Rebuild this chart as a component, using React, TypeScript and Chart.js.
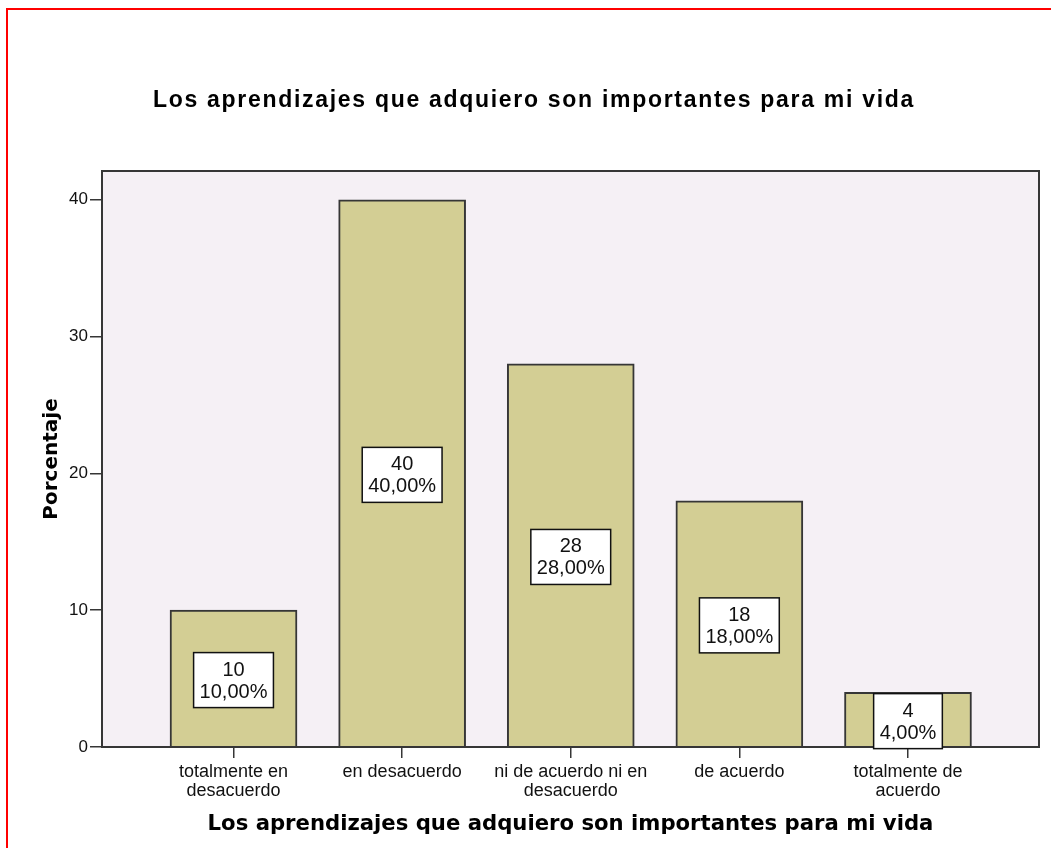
import React, { useEffect, useRef } from "react";
import { Chart, registerables } from "chart.js";

Chart.register(...registerables);

const chartTitle = "Los aprendizajes que adquiero son importantes para mi vida";
const xAxisTitle = "Los aprendizajes que adquiero son importantes para mi vida";
const yAxisTitle = "Porcentaje";
const categories: (string | string[])[] = [
  ["totalmente en", "desacuerdo"],
  "en desacuerdo",
  ["ni de acuerdo ni en", "desacuerdo"],
  "de acuerdo",
  ["totalmente de", "acuerdo"],
];
const counts = [10, 40, 28, 18, 4];
const percentages = [10, 40, 28, 18, 4];
const yTickStep = 10;

const pctText = (v: number) => v.toFixed(2).replace(".", ",") + "%";

const W = 1051;
const H = 848;
const FRAME = "#363636";

const framePlugin = {
  id: "frameAndLabels",
  beforeDraw(chart: any) {
    const { ctx, chartArea: a } = chart;
    ctx.save();
    ctx.fillStyle = "#ffffff";
    ctx.fillRect(0, 0, chart.width, chart.height);
    ctx.fillStyle = "#F5F0F5";
    ctx.fillRect(a.left, a.top, a.right - a.left, a.bottom - a.top);
    ctx.restore();
  },
  afterDatasetsDraw(chart: any) {
    const { ctx, chartArea: a } = chart;
    ctx.save();
    ctx.strokeStyle = FRAME;
    ctx.lineWidth = 2;
    ctx.strokeRect(a.left, a.top, a.right - a.left, a.bottom - a.top);

    const meta = chart.getDatasetMeta(0);
    const ys = chart.scales.y;
    ctx.font = '20px "Liberation Sans", Arial, sans-serif';
    ctx.textAlign = "center";
    ctx.textBaseline = "middle";
    meta.data.forEach((bar: any, i: number) => {
      const cx = bar.x;
      const cy = ys.getPixelForValue(percentages[i] / 2) + 1.5;
      const l1 = String(counts[i]);
      const l2 = pctText(percentages[i]);
      const w = Math.max(ctx.measureText(l1).width, ctx.measureText(l2).width) + 12;
      const h = 55;
      ctx.fillStyle = "#ffffff";
      ctx.fillRect(cx - w / 2, cy - h / 2, w, h);
      ctx.strokeStyle = "#111111";
      ctx.lineWidth = 1.5;
      ctx.strokeRect(cx - w / 2, cy - h / 2, w, h);
      ctx.fillStyle = "#111111";
      ctx.fillText(l1, cx, cy - 10);
      ctx.fillText(l2, cx, cy + 12);
    });
    ctx.restore();
  },
  afterDraw(chart: any) {
    const { ctx } = chart;
    ctx.save();
    // chart title
    ctx.fillStyle = "#000000";
    ctx.font = 'bold 23px "Liberation Sans", Arial, sans-serif';
    (ctx as any).letterSpacing = "1.7px";
    ctx.textAlign = "center";
    ctx.textBaseline = "middle";
    ctx.fillText(chartTitle, 534, 101);
    (ctx as any).letterSpacing = "0px";
    // red frame
    ctx.fillStyle = "#ff0000";
    ctx.fillRect(6, 8, chart.width - 6, 2);
    ctx.fillRect(6, 8, 2, chart.height - 8);
    ctx.restore();
  },
};

export default function App() {
  const ref = useRef<HTMLCanvasElement | null>(null);

  useEffect(() => {
    if (!ref.current) return;
    const chart = new Chart(ref.current, {
      type: "bar",
      data: {
        datasets: [
          {
            data: percentages.map((v, i) => ({ x: i, y: v })),
            backgroundColor: "#D3CE94",
            borderColor: FRAME,
            borderWidth: 2,
            barThickness: 127,
          },
        ],
      },
      options: {
        responsive: false,
        animation: false,
        devicePixelRatio: 1,
        layout: { padding: { left: 0, right: 12, top: 171, bottom: 0 } },
        plugins: {
          legend: { display: false },
          tooltip: { enabled: false },
          title: { display: false },
        },
        scales: {
          x: {
            type: "linear",
            min: -0.78,
            max: 4.777,
            offset: false,
            afterFit: (s: any) => {
              s.height = 101;
            },
            border: { display: false },
            grid: {
              offset: false,
              drawOnChartArea: false,
              drawTicks: true,
              tickLength: 11,
              color: FRAME,
              lineWidth: 1.5,
            },
            ticks: {
              stepSize: 1,
              includeBounds: false,
              autoSkip: false,
              maxRotation: 0,
              padding: 5,
              color: "#111111",
              font: { family: '"Liberation Sans", Arial, sans-serif', size: 18, lineHeight: 1.02 },
              callback: (v: any) => {
                const i = Math.round(Number(v));
                return Number.isInteger(Number(v)) && categories[i] !== undefined ? (categories[i] as any) : "";
              },
            },
            title: {
              display: true,
              text: xAxisTitle,
              color: "#000000",
              font: { family: '"DejaVu Sans", sans-serif', size: 21.2, weight: "bold", lineHeight: 1.2 },
              padding: { top: 0, bottom: 11 },
            },
          },
          y: {
            min: 0,
            max: 42.1,
            afterFit: (s: any) => {
              s.width = 102;
            },
            border: { display: false },
            grid: {
              drawOnChartArea: false,
              drawTicks: true,
              tickLength: 12,
              color: FRAME,
              lineWidth: 1.5,
            },
            ticks: {
              stepSize: yTickStep,
              includeBounds: false,
              padding: 2,
              color: "#111111",
              font: { family: '"Liberation Sans", Arial, sans-serif', size: 17 },
            },
            title: {
              display: true,
              text: yAxisTitle,
              color: "#000000",
              font: { family: '"DejaVu Sans", sans-serif', size: 20, weight: "bold", lineHeight: 1.2 },
              padding: { top: 40, bottom: 0 },
            },
          },
        },
      } as any,
      plugins: [framePlugin],
    });
    return () => chart.destroy();
  }, []);

  return (
    <div style={{ position: "fixed", left: 0, top: 0, width: W, height: H, background: "#fff" }}>
      <canvas ref={ref} width={W} height={H} style={{ display: "block", width: W, height: H }} />
    </div>
  );
}
